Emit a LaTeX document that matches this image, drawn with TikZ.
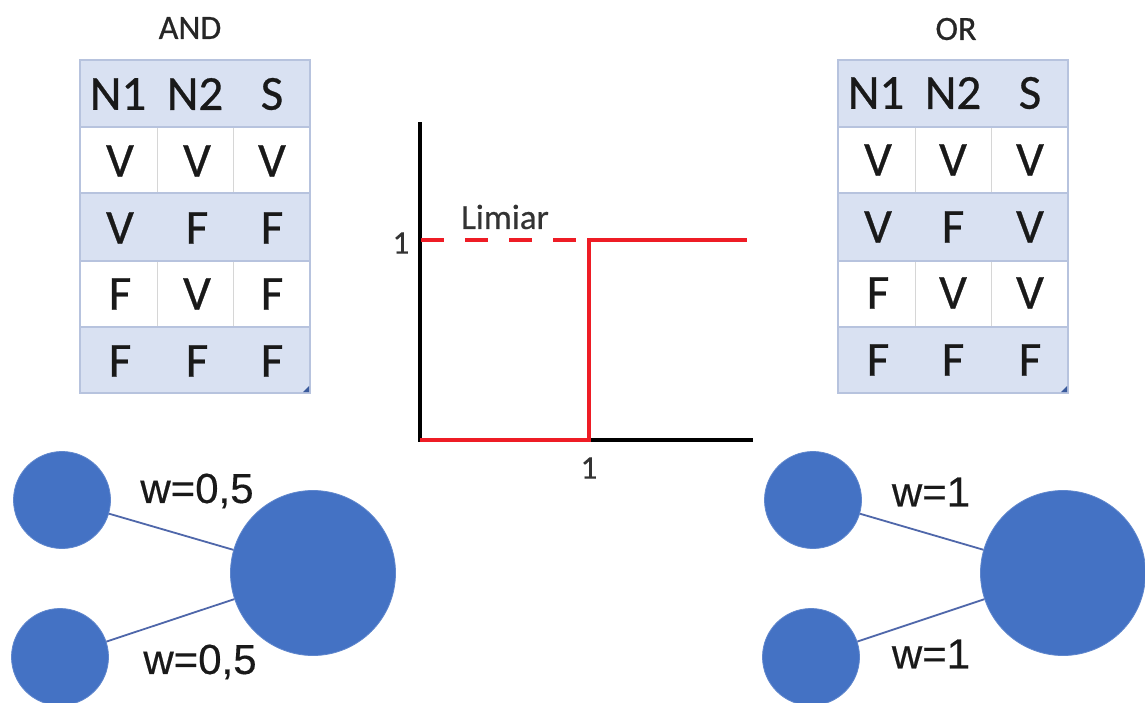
\documentclass[tikz,border=0pt]{standalone}
\usepackage{fontspec}
\setmainfont{Carlito}[FakeBold=0.6]
\newfontfamily\weightfont{Liberation Sans}[FakeBold=0.4]
\definecolor{bandblue}{HTML}{D9E1F2}
\definecolor{rulecol}{HTML}{B7C3DE}
\definecolor{cellsep}{HTML}{D6D6D6}
\definecolor{cornercol}{HTML}{3A5A9C}
\definecolor{nodeblue}{HTML}{4472C4}
\definecolor{edgeblue}{HTML}{4F67AA}
\definecolor{stepred}{HTML}{EE1C25}
\definecolor{labelgray}{HTML}{333333}

\tikzset{
  cell/.style={font=\fontsize{49}{49}\selectfont, text=black!90, inner sep=0pt, anchor=center},
  tabletitle/.style={font=\fontsize{34}{34}\selectfont, text=black!85, inner sep=0pt},
  axis/.style={line width=4pt, black, line join=miter},
  stepline/.style={line width=3.2pt, stepred},
  ticklabel/.style={font=\fontsize{33}{33}\selectfont, text=labelgray, inner sep=0pt},
  inputneuron/.style={circle, fill=nodeblue, draw=nodeblue!85!white, line width=0.8pt, minimum size=97pt, inner sep=0pt},
  outputneuron/.style={circle, fill=nodeblue, draw=nodeblue!85!white, line width=0.8pt, minimum size=165pt, inner sep=0pt},
  synapse/.style={edgeblue, line width=1.8pt},
  weight/.style={font=\weightfont\fontsize{42}{42}\selectfont, text=black!90, inner sep=0pt}
}

% Truth table frame: #1 = left edge
\newcommand\drawtableframe[1]{%
  \begin{scope}[shift={(#1,0)}]
    \fill[bandblue] (0,60) rectangle (230,127);
    \fill[white]    (0,127) rectangle (230,193);
    \fill[bandblue] (0,193) rectangle (230,261);
    \fill[white]    (0,261) rectangle (230,327);
    \fill[bandblue] (0,327) rectangle (230,393);
    \draw[cellsep, line width=1pt] (77,127) -- (77,193) (153,127) -- (153,193)
                                   (77,261) -- (77,327) (153,261) -- (153,327);
    \draw[rulecol, line width=1.4pt] (0,127) -- (230,127) (0,193) -- (230,193)
                                     (0,261) -- (230,261) (0,327) -- (230,327);
    \draw[rulecol, line width=1.4pt] (0,60) rectangle (230,393);
    \fill[cornercol] (229,386) -- (229,392) -- (223,392) -- cycle;
  \end{scope}}

\begin{document}
\begin{tikzpicture}[x=1pt, y=-1pt]
  \useasboundingbox (0,0) rectangle (1145,702);
  \clip (0,0) rectangle (1145,702);
  \fill[white] (0,0) rectangle (1145,702);

  % ---------- AND table ----------
  \node[tabletitle] (and-title) at (190,28) {AND};
  \drawtableframe{80}
  \node[cell] (and-h1) at (118,94) {N1};
  \node[cell] (and-h2) at (195,94) {N2};
  \node[cell] (and-h3) at (272,94) {S};
  \foreach \r/\yy/\a/\b/\c in {1/161/V/V/V, 2/228/V/F/F, 3/294/F/V/F, 4/361/F/F/F}{
    \node[cell] (and-\r-1) at (120,\yy) {\a};
    \node[cell] (and-\r-2) at (197,\yy) {\b};
    \node[cell] (and-\r-3) at (272,\yy) {\c};
  }

  % ---------- OR table ----------
  \node[tabletitle] (or-title) at (956,29) {OR};
  \drawtableframe{838}
  \node[cell] (or-h1) at (876,93) {N1};
  \node[cell] (or-h2) at (953,93) {N2};
  \node[cell] (or-h3) at (1030,93) {S};
  \foreach \r/\yy/\a/\b/\c in {1/160/V/V/V, 2/227/V/F/V, 3/293/F/V/V, 4/360/F/F/F}{
    \node[cell] (or-\r-1) at (878,\yy) {\a};
    \node[cell] (or-\r-2) at (953,\yy) {\b};
    \node[cell] (or-\r-3) at (1030,\yy) {\c};
  }

  % ---------- step activation ----------
  \coordinate (origin) at (420,440);
  \coordinate (ytop) at (420,122);
  \coordinate (xend) at (753,440);
  \coordinate (lvl-start) at (421,240);
  \coordinate (step-low) at (589,440);
  \coordinate (step-high) at (589,240);
  \coordinate (lvl-end) at (747,240);
  \draw[axis] (ytop) -- (origin) -- (xend);
  \draw[stepline] (origin) -- (step-low) -- (step-high) -- (lvl-end);
  \draw[stepline, dash pattern=on 23pt off 21pt] (lvl-start) -- (step-high);
  \node[ticklabel, font=\fontsize{35}{35}\selectfont] (limiar) at (505,217) {Limiar};
  \node[ticklabel] (ytick) at (401,243) {1};
  \node[ticklabel] (xtick) at (589,468) {1};

  % ---------- AND neuron ----------
  \node[inputneuron] (and-in1) at (62,500) {};
  \node[inputneuron] (and-in2) at (60,657) {};
  \node[outputneuron] (and-out) at (313,573) {};
  \draw[synapse] (and-in1) -- (and-out);
  \draw[synapse] (and-in2) -- (and-out);
  \node[weight] (and-w1) at (197,491) {w=0,5};
  \node[weight] (and-w2) at (200,662) {w=0,5};

  % ---------- OR neuron ----------
  \node[inputneuron] (or-in1) at (813,500) {};
  \node[inputneuron] (or-in2) at (811,657) {};
  \node[outputneuron] (or-out) at (1063,573) {};
  \draw[synapse] (or-in1) -- (or-out);
  \draw[synapse] (or-in2) -- (or-out);
  \node[weight] (or-w1) at (931,492) {w=1};
  \node[weight] (or-w2) at (931,654) {w=1};
\end{tikzpicture}
\end{document}
